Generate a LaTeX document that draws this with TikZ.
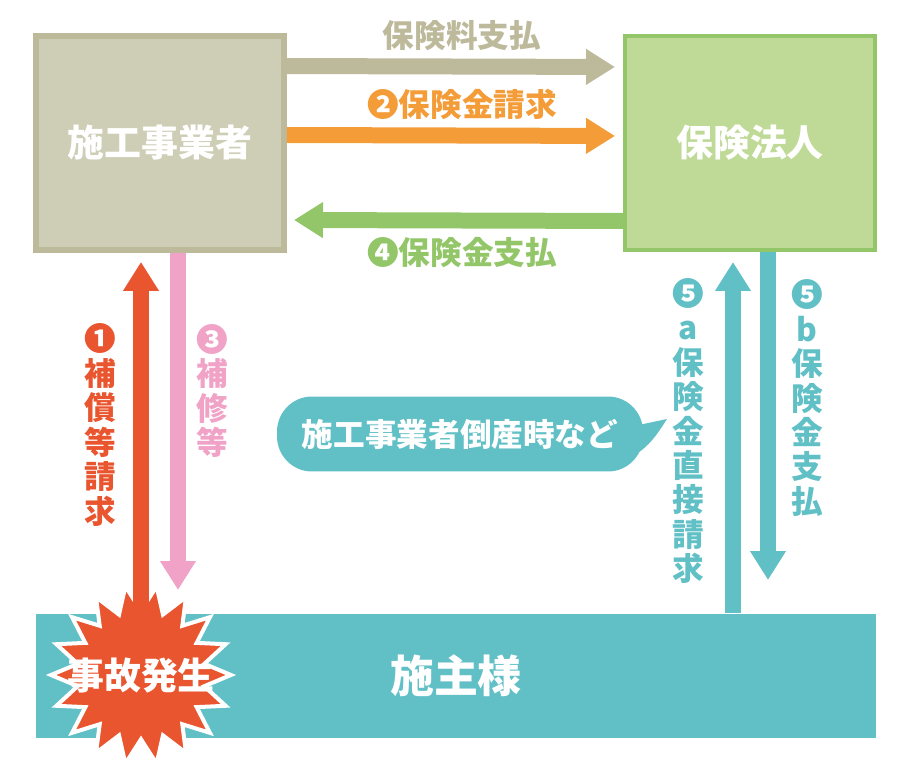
\documentclass[tikz,border=0pt]{standalone}
\usepackage{fontspec}
\setmainfont{Noto Sans CJK JP}
\usetikzlibrary{arrows.meta}
\usetikzlibrary{shapes.geometric}
\usetikzlibrary{positioning}
\definecolor{kojifill}{HTML}{CECDB6}
\definecolor{kojiline}{HTML}{BDBA9C}
\definecolor{hokenfill}{HTML}{BEDA96}
\definecolor{hokenline}{HTML}{93C668}
\definecolor{orng}{HTML}{F39C38}
\definecolor{aka}{HTML}{E9552F}
\definecolor{momo}{HTML}{F0A3C7}
\definecolor{ao}{HTML}{61C0C6}

\begin{document}
\begin{tikzpicture}[x=0.02cm, y=-0.02cm,
        fat/.style={line width=0.32cm, -{Triangle[width=0.68cm,length=0.58cm]}},
        lbl/.style={font=\fontsize{18}{19.6}\selectfont\bfseries, inner sep=0pt},
        tate/.style={lbl, align=center},
        big/.style={text=white, font=\fontsize{21}{21}\selectfont\bfseries}]
        \useasboundingbox (0,0) rectangle (912,776);
        \node[big, fill=kojifill, draw=kojiline, line width=0.12cm, minimum width=4.96cm, minimum height=4.28cm] (kojisha) at (160,143) {施工事業者};
        \node[big, fill=hokenfill, draw=hokenline, line width=0.08cm, minimum width=5cm, minimum height=4.28cm] (hoken) at (750,143) {保険法人};
        \node[big, fill=ao, minimum width=16.8cm, minimum height=2.5cm, font=\fontsize{25}{25}\selectfont\bfseries] (sesyu) at (456,676) {施主様};
        \coordinate (hoshu) at (178,590);
        \coordinate (chokusetsu) at (733,262);
        \coordinate (shiharai) at (768,580);
        \draw[fat, kojiline, shorten >=0.16cm] ([yshift=-0.66cm]kojisha.north east) -- ([yshift=-0.66cm]hoken.north west);
        \draw[fat, orng, shorten >=0.16cm] ([yshift=-2.04cm]kojisha.north east) -- ([yshift=-2.04cm]hoken.north west);
        \draw[fat, hokenline, shorten >=0.14cm] ([yshift=-3.74cm]hoken.north west) -- ([yshift=-3.74cm]kojisha.north east);
        \draw[fat, momo] (kojisha.south -| hoshu) -- (hoshu);
        \draw[fat, ao] (sesyu.north -| chokusetsu) -- (chokusetsu);
        \draw[fat, ao] (hoken.south -| shiharai) -- (shiharai);
        \node[lbl, text=kojiline] (ryo) at (462,36) {保険料支払};
        \node[lbl, text=orng] (kinseikyu) at (462,104) {❷保険金請求};
        \node[lbl, text=hokenline] (kinshiharai) at (462,253) {❹保険金支払};
        \node[tate, text=aka] (hosho) at (100,425) {❶\\補\\償\\等\\請\\求};
        \node[tate, text=momo] (hoshulbl) at (212,391) {❸\\補\\修\\等};
        \node[tate, text=ao] (chokulbl) at (688,431) {❺\\a\\保\\険\\金\\直\\接\\請\\求};
        \node[tate, text=ao] (shiharailbl) at (807,398) {❺\\b\\保\\険\\金\\支\\払};
        \node[fill=ao, rounded corners=0.7cm, minimum width=7.32cm, minimum height=1.5cm, text=white, font=\fontsize{18}{18}\selectfont\bfseries] (tosan) at (460,434) {施工事業者倒産時など};
        \fill[ao] (634,426) -- (667,419) .. controls (655,438) and (645,452) .. (624,460) -- cycle;
        \node[star, star points=18, star point ratio=1.4, shape border rotate=10, minimum size=3.6cm, inner sep=0pt, fill=aka, draw=white, line width=0.08cm] (jiko) at (141,675) {};
        \draw[fat, aka, shorten <=1.2cm, shorten >=0.18cm] (jiko.center) -- (jiko.center |- kojisha.south);
        \node[big, inner sep=0pt] (jikomoji) at (141,676) {事故発生};
\end{tikzpicture}
\end{document}
